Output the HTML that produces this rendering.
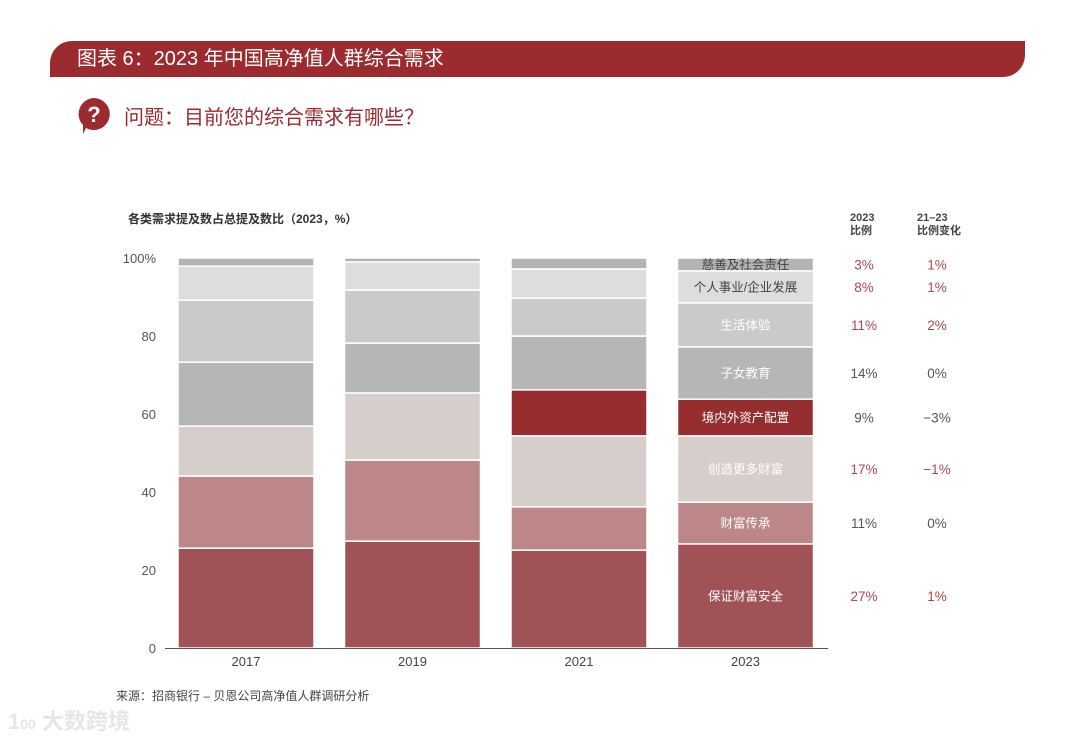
<!DOCTYPE html>
<html><head><meta charset="utf-8">
<style>
body{margin:0;width:1080px;height:738px;background:#fff;font-family:"Liberation Sans","Noto Sans CJK SC",sans-serif;overflow:hidden;position:relative}
.hdr{position:absolute;left:50px;top:41px;width:975px;height:36px;background:#9b2b2f;border-radius:22px 0 22px 0;color:#fff;font-size:20px;line-height:36px;padding-left:27px;box-sizing:border-box}
</style></head><body>
<div class="hdr">图表 6：2023 年中国高净值人群综合需求</div>
<svg style="position:absolute;left:76px;top:96px" width="38" height="40"><path d="M18 2a16 16 0 1 1-8 30l-3 6 0-9A16 16 0 0 1 18 2z" fill="#9b2b2f"/><text x="18" y="26" fill="#fff" font-size="22" font-weight="bold" text-anchor="middle" font-family="Liberation Sans">?</text></svg>
<div style="position:absolute;left:124px;top:101px;font-size:20px;color:#9b2b2f">问题：目前您的综合需求有哪些？</div>
<svg id="chart" style="position:absolute;left:0;top:0" width="1080" height="738"></svg>
<div style="position:absolute;left:116px;top:687px;font-size:12px;color:#444">来源：招商银行 – 贝恩公司高净值人群调研分析</div>
<div style="position:absolute;left:8px;top:704px;font-size:22px;color:#e6e6e6;font-weight:bold">1<span style="font-size:14px">00</span> 大数跨境</div>
<script>
const years=["2017","2019","2021","2023"];
const cats=["保证财富安全","财富传承","创造更多财富","境内外资产配置","子女教育","生活体验","个人事业/企业发展","慈善及社会责任"];
const colors=["#a05257","#bd8789","#d6ceca","#962d2e","#b5b7b6","#c9cbca","#dcdddd","#b3b3b3"];
const labelColors=["#fff","#fff","#fff","#fff","#fff","#fff","#444","#444"];
const v2017=[25.6,18.5,12.8,0,16.4,15.9,8.7,2.1];
const v2019=[27.4,20.8,17.2,0,12.8,13.6,7.2,1.0];
const v2021=[25.1,11.1,18.2,11.8,13.8,9.7,7.5,2.8];
const v2023=[26.7,10.7,17.0,9.4,13.4,11.3,8.2,3.3];
const pct2023=["27%","11%","17%","9%","14%","11%","8%","3%"];
const chg=["1%","0%","−1%","−3%","0%","2%","1%","1%"];
const redRow=[true,false,true,false,false,true,true,true];
const yTicks=[0,20,40,60,80,100];
const series=[v2017,v2019,v2021,v2023];
const svg=document.getElementById('chart');const NS="http://www.w3.org/2000/svg";
const y=v=>648-v*3.9;const bx=i=>178+i*166.5;const bw=136;
function mk(t,a,p){const e=document.createElementNS(NS,t);for(const k in a)e.setAttribute(k,a[k]);(p||svg).appendChild(e);return e}
let t=mk('text',{x:128,y:223,'font-size':12,'font-weight':'bold',fill:'#333'});t.textContent="各类需求提及数占总提及数比（2023，%）";


yTicks.forEach(v=>{const e=mk('text',{x:156,y:y(v)+5,'font-size':13,fill:'#555','text-anchor':'end'});e.textContent=v===100?"100%":v;

});
series.forEach((vals,i)=>{let acc=0;vals.forEach((v,j)=>{if(v<=0)return;const r=mk('rect',{x:bx(i),y:y(acc+v),width:bw,height:v*3.9,fill:colors[j],stroke:'#fff','stroke-width':1.5});


if(i===3){const l=mk('text',{x:bx(i)+bw/2,y:y(acc+v/2)+4.5,'font-size':12.5,fill:labelColors[j],'text-anchor':'middle'});l.textContent=cats[j];


const p=mk('text',{x:864,y:y(acc+v/2)+5,'font-size':13.5,fill:redRow[j]?'#b0474d':'#555','text-anchor':'middle'});p.textContent=pct2023[j];


const c=mk('text',{x:937,y:y(acc+v/2)+5,'font-size':13.5,fill:redRow[j]?'#b0474d':'#555','text-anchor':'middle'});c.textContent=chg[j];

}
acc+=v;});
const xl=mk('text',{x:bx(i)+bw/2,y:666,'font-size':13,fill:'#444','text-anchor':'middle'});xl.textContent=years[i];

});
const ax=mk('line',{x1:165,x2:828,y1:648.5,y2:648.5,stroke:'#555','stroke-width':1});


[["2023",850,221],["比例",850,234],["21–23",917,221],["比例变化",917,234]].forEach(a=>{const e=mk('text',{x:a[1],y:a[2],'font-size':11,'font-weight':'bold',fill:'#444'});e.textContent=a[0];

});
</script>
</body></html>
